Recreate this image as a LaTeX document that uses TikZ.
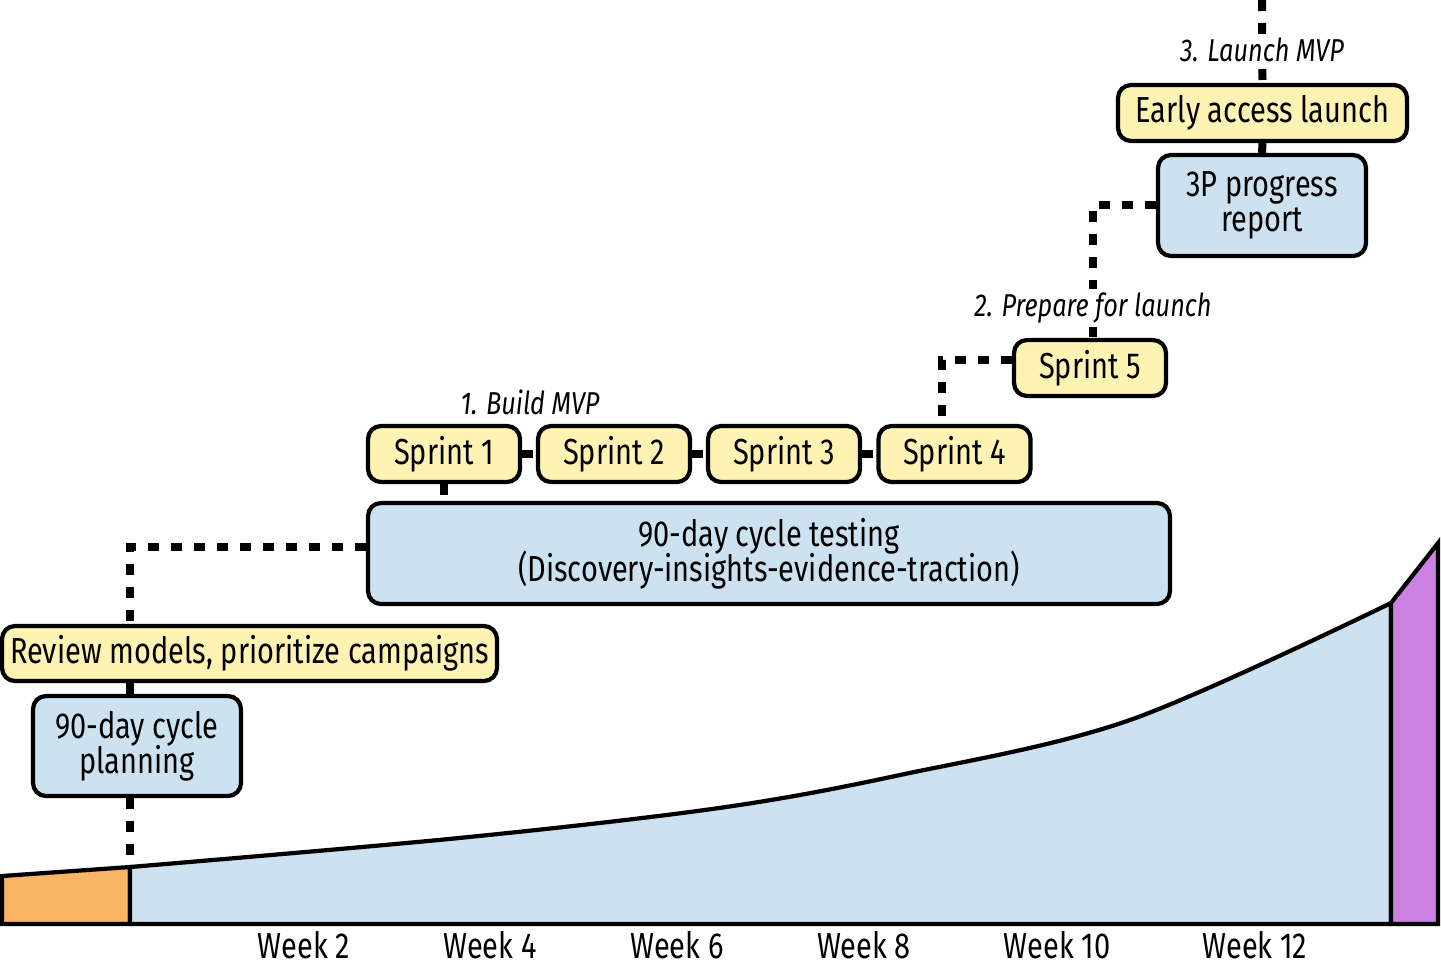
\documentclass[tikz,border=0pt]{standalone}
\usepackage{fontspec}
\setmainfont{Fira Sans}[FakeStretch=0.8]
\usepackage{tikz}
\usetikzlibrary{calc}
\definecolor{boxyellow}{HTML}{FFF3B3}
\definecolor{boxblue}{HTML}{CCE2F0}
\definecolor{areaorange}{HTML}{F9B464}
\definecolor{areapurple}{HTML}{CC80E2}
\newcommand{\boxfont}{\fontsize{10.3}{10}\selectfont\lineskiplimit=-10pt\relax}
\tikzset{
    box/.style={draw, line width=1.2pt, rounded corners=0.13cm, inner sep=0pt, align=center,
        font=\boxfont},
    ybox/.style={box, fill=boxyellow, minimum height=0.56cm},
    bbox/.style={box, fill=boxblue, minimum height=1.01cm},
    phase/.style={font=\fontsize{9.0}{10}\selectfont\itshape, fill=white, inner sep=1pt},
    dotlink/.style={line width=0.08cm, dash pattern=on 0.11cm off 0.12cm}
}
\newcommand{\drawlink}{\draw[dotlink]}

\begin{document}
\begin{tikzpicture}
    \useasboundingbox (0,0) rectangle (14.41,9.66);

    % Draw area under the curve
    \draw[line width=1.2pt, fill=areaorange] (0.02,0.42) -- (1.30,0.42) -- (1.30,0.99) -- (0.02,0.90) -- cycle;
    \draw[line width=1.2pt, fill=boxblue, line join=round] (1.30,0.42) -- plot[smooth, tension=0.55] coordinates {(1.30,0.99) (4.59,1.28) (7.19,1.58) (9.00,1.91) (11.30,2.46) (13.91,3.63)} -- (13.91,0.42) -- cycle;
    \draw[line width=1.2pt, fill=areapurple] (13.91,0.42) -- (13.91,3.63) -- (14.38,4.23) -- (14.38,0.42) -- cycle;
    \coordinate (start) at (1.30,0.99);

    % Week labels
    \foreach \x/\w in {3.04/2, 4.90/4, 6.77/6, 8.64/8, 10.57/10, 12.55/12} {
        \node[font=\boxfont] (week\w) at (\x, 0.21) {Week \w};
    }

    % Draw boxes
    \node[ybox, minimum width=2.89cm] (launch) at (12.625, 8.53) {Early access launch};
    \node[bbox, minimum width=2.08cm] (report) at (12.62, 7.605) {3P progress\\report};
    \node[ybox, minimum width=1.52cm] (sprint5) at (10.90, 5.98) {Sprint 5};
    \node[ybox, minimum width=1.52cm] (sprint1) at (4.44, 5.12) {Sprint 1};
    \node[ybox, minimum width=1.52cm] (sprint2) at (6.14, 5.12) {Sprint 2};
    \node[ybox, minimum width=1.52cm] (sprint3) at (7.84, 5.12) {Sprint 3};
    \node[ybox, minimum width=1.52cm] (sprint4) at (9.545, 5.12) {Sprint 4};
    \node[bbox, minimum width=8.02cm] (testing) at (7.69, 4.125) {90-day cycle testing\\(Discovery-insights-evidence-traction)};
    \node[ybox, minimum width=4.95cm, minimum height=0.55cm] (review) at (2.495, 3.125) {Review models, prioritize campaigns};
    \node[bbox, minimum width=2.08cm, minimum height=1.00cm] (planning) at (1.37, 2.20) {90-day cycle\\planning};

    % Draw dotted links
    \coordinate (top) at (12.62, 9.66);
    \coordinate (bend3) at (10.93, 7.61);
    \coordinate (bend2) at (9.42, 6.06);
    \coordinate (bend1) at (1.30, 4.19);

    \drawlink (top) -- (launch.north);
    \drawlink (launch.south) -- (report.north);
    \drawlink (report.west |- bend3) -- (bend3) -- (bend3 |- sprint5.north);
    \drawlink (sprint5.west |- bend2) -- (bend2) -- (bend2 |- sprint4.north);
    \drawlink (sprint1.east) -- (sprint2.west);
    \drawlink (sprint2.east) -- (sprint3.west);
    \drawlink (sprint3.east) -- (sprint4.west);
    \drawlink (sprint1.south) -- (sprint1.south |- testing.north);
    \drawlink (testing.west |- bend1) -- (bend1) -- (bend1 |- review.north);
    \drawlink (bend1 |- review.south) -- (bend1 |- planning.north);
    \drawlink (bend1 |- planning.south) -- (start);

    % Phase labels
    \node[phase] (phase3) at (12.62, 9.16) {3. Launch MVP};
    \node[phase] (phase2) at (10.93, 6.58) {2. Prepare for launch};
    \node[phase] (phase1) at (5.30, 5.64) {1. Build MVP};
\end{tikzpicture}
\end{document}
